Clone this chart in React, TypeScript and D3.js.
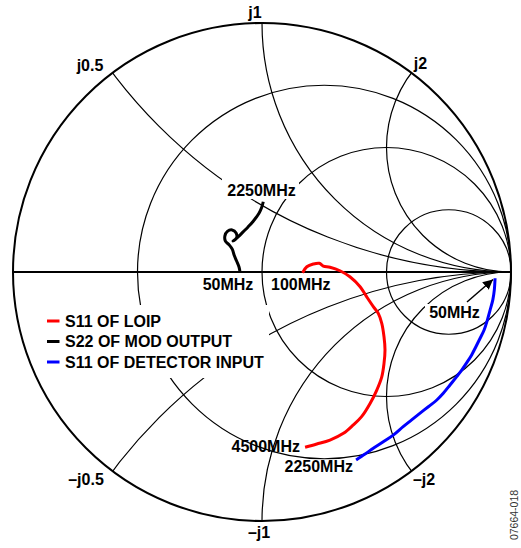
import React, { useRef, useEffect } from 'react';
import * as d3 from 'd3';

// reflection coefficient points (re, im)
const loipRe = [0.163, 0.18, 0.206, 0.23, 0.246, 0.273, 0.313, 0.353, 0.394, 0.42, 0.447, 0.467, 0.481, 0.49, 0.494, 0.49, 0.481, 0.461, 0.434, 0.4, 0.367, 0.327, 0.273, 0.22, 0.173];
const loipIm = [-0.003, 0.021, 0.032, 0.035, 0.024, 0.019, 0.005, -0.019, -0.059, -0.099, -0.139, -0.166, -0.206, -0.26, -0.313, -0.367, -0.421, -0.474, -0.528, -0.581, -0.614, -0.648, -0.675, -0.691, -0.704];

const modRe = [-0.088, -0.092, -0.102, -0.112, -0.119, -0.131, -0.147, -0.149, -0.139, -0.12, -0.104, -0.102, -0.116, -0.096, -0.076, -0.056, -0.036, -0.012, -0.001, 0.005];
const modIm = [-0.003, 0.019, 0.044, 0.068, 0.091, 0.108, 0.124, 0.145, 0.163, 0.169, 0.157, 0.137, 0.124, 0.141, 0.161, 0.181, 0.203, 0.236, 0.26, 0.282];

const detRe = [0.936, 0.933, 0.927, 0.916, 0.905, 0.892, 0.876, 0.859, 0.842, 0.825, 0.802, 0.782, 0.755, 0.728, 0.702, 0.668, 0.635, 0.601, 0.567, 0.527, 0.487, 0.447, 0.414, 0.378];
const detIm = [-0.025, -0.072, -0.112, -0.153, -0.193, -0.233, -0.266, -0.3, -0.333, -0.36, -0.394, -0.42, -0.454, -0.487, -0.514, -0.541, -0.567, -0.594, -0.621, -0.655, -0.682, -0.708, -0.731, -0.755];

const resistances = [1 / 3, 1, 3];
const reactances = [0.5, 1, 2];

const legendNames = ['S11 OF LOIP', 'S22 OF MOD OUTPUT', 'S11 OF DETECTOR INPUT'];
const legendColors = ['#ff0000', '#000000', '#0000ff'];

const W = 521;
const H = 548;
const CX = 262;
const CY = 272;
const R = 249;
const FONT = '"Liberation Sans", Arial, sans-serif';
const FS = 16;

const App = () => {
  const svgRef = useRef<SVGSVGElement>(null);

  useEffect(() => {
    const svg = d3.select(svgRef.current);
    svg.selectAll('*').remove();

    const x = d3.scaleLinear().domain([-1, 1]).range([CX - R, CX + R]);
    const y = d3.scaleLinear().domain([-1, 1]).range([CY + R, CY - R]);

    svg.append('defs').append('clipPath').attr('id', 'unit')
      .append('circle').attr('cx', x(0)).attr('cy', y(0)).attr('r', R);

    const grid = svg.append('g').attr('fill', 'none').attr('stroke', '#000').attr('stroke-width', 1.2);

    // constant resistance circles
    grid.selectAll('circle.res').data(resistances).enter().append('circle')
      .attr('class', 'res')
      .attr('cx', d => x(d / (1 + d)))
      .attr('cy', y(0))
      .attr('r', d => R / (1 + d));

    // constant reactance arcs, + and -
    const arcs = grid.append('g').attr('clip-path', 'url(#unit)');
    reactances.forEach(xv => {
      [1, -1].forEach(s => {
        arcs.append('circle')
          .attr('cx', x(1))
          .attr('cy', y(s / xv))
          .attr('r', R / xv);
      });
    });

    svg.append('line')
      .attr('x1', x(-1)).attr('x2', x(1)).attr('y1', y(0)).attr('y2', y(0))
      .attr('stroke', '#000').attr('stroke-width', 2);

    svg.append('circle')
      .attr('cx', x(0)).attr('cy', y(0)).attr('r', R)
      .attr('fill', 'none').attr('stroke', '#000').attr('stroke-width', 2);

    // white boxes that hide grid behind some labels
    const boxes = [
      [44, 305, 225, 73],
      [222, 177, 77, 22],
      [425, 304, 58, 18],
    ];
    svg.selectAll('rect.box').data(boxes).enter().append('rect')
      .attr('class', 'box')
      .attr('x', d => d[0]).attr('y', d => d[1])
      .attr('width', d => d[2]).attr('height', d => d[3])
      .attr('fill', '#fff');

    const line = d3.line<[number, number]>()
      .x(d => x(d[0]))
      .y(d => y(d[1]))
      .curve(d3.curveCatmullRom);

    const series = [
      { re: loipRe, im: loipIm, color: legendColors[0] },
      { re: modRe, im: modIm, color: legendColors[1] },
      { re: detRe, im: detIm, color: legendColors[2] },
    ];
    series.forEach(s => {
      const pts = s.re.map((r, i) => [r, s.im[i]] as [number, number]);
      svg.append('path')
        .attr('d', line(pts))
        .attr('fill', 'none')
        .attr('stroke', s.color)
        .attr('stroke-width', 3)
        .attr('stroke-linejoin', 'round')
        .attr('stroke-linecap', 'butt');
    });

    // arrow to 50MHz end of detector curve
    svg.append('defs').append('marker')
      .attr('id', 'ah').attr('viewBox', '0 0 10 10').attr('refX', 10).attr('refY', 5)
      .attr('markerWidth', 10).attr('markerHeight', 10).attr('markerUnits', 'userSpaceOnUse')
      .attr('orient', 'auto')
      .append('path').attr('d', 'M0,0L10,5L0,10Z').attr('fill', '#000');
    svg.append('line')
      .attr('x1', 467).attr('y1', 302).attr('x2', 493).attr('y2', 279.5)
      .attr('stroke', '#000').attr('stroke-width', 1.5)
      .attr('marker-end', 'url(#ah)');

    const text = svg.append('g')
      .attr('font-family', FONT).attr('font-weight', 'bold').attr('font-size', FS).attr('fill', '#000');

    const labels: [string, number, number, string][] = [
      ['j1', 255, 18, 'middle'],
      ['j0.5', 90, 71, 'middle'],
      ['j2', 420.5, 69, 'middle'],
      ['\u2013j0.5', 86, 485, 'middle'],
      ['\u2013j1', 259, 538, 'middle'],
      ['\u2013j2', 424, 485, 'middle'],
      ['2250MHz', 261.5, 196, 'middle'],
      ['50MHz', 228, 290, 'middle'],
      ['100MHz', 271, 290, 'start'],
      ['50MHz', 454.5, 318, 'middle'],
      ['4500MHz', 300, 452, 'end'],
      ['2250MHz', 353, 472, 'end'],
    ];
    text.selectAll('text.lbl').data(labels).enter().append('text')
      .attr('class', 'lbl')
      .attr('x', d => d[1]).attr('y', d => d[2])
      .attr('text-anchor', d => d[3])
      .text(d => d[0]);

    const legend = svg.append('g').attr('transform', 'translate(47,321)');
    legendNames.forEach((name, i) => {
      const g = legend.append('g').attr('transform', `translate(0,${i * 20.5})`);
      g.append('line').attr('x1', 0).attr('x2', 12.5).attr('y1', 0).attr('y2', 0)
        .attr('stroke', legendColors[i]).attr('stroke-width', 3);
      g.append('text').attr('x', 18).attr('y', 5.5)
        .attr('font-family', FONT).attr('font-weight', 'bold').attr('font-size', FS)
        .text(name);
    });

    svg.append('text')
      .attr('transform', 'translate(518,515) rotate(-90)')
      .attr('text-anchor', 'middle')
      .attr('font-family', FONT).attr('font-size', 10.5).attr('fill', '#333')
      .text('07664-018');
  }, []);

  return (
    <svg ref={svgRef} width={W} height={H}
      style={{ position: 'absolute', left: 0, top: 0, background: '#fff' }} />
  );
};

export default App;
